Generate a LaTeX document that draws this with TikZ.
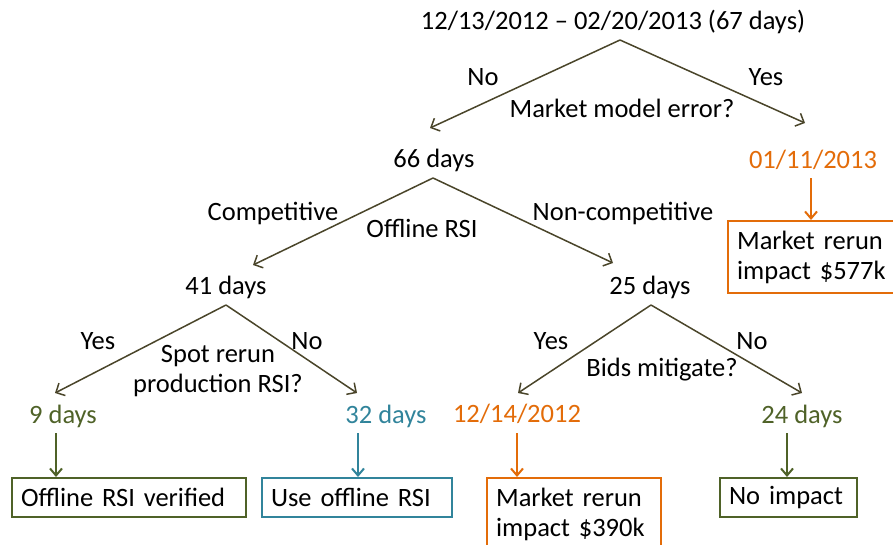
\documentclass[tikz,border=0pt]{standalone}
\usepackage{fontspec}
\setmainfont{Carlito}
\usetikzlibrary{arrows.meta}
\definecolor{arr}{HTML}{4A452A}
\definecolor{grn}{HTML}{4F6228}
\definecolor{teal}{HTML}{31849B}
\definecolor{org}{HTML}{E36C09}
\tikzset{
  lbl/.style={inner sep=0pt, anchor=center, font=\fontsize{26.5}{30}\selectfont},
  branch/.style={draw=arr, line width=1.5pt, -{Straight Barb[length=7pt,width=14pt,line width=1.5pt]}},
  down/.style={line width=2pt, -{Straight Barb[length=7pt,width=12pt,line width=2pt]}},
  box/.style={draw=#1, line width=2.2pt, anchor=north west, inner xsep=9pt, inner ysep=0pt, align=left, font=\fontsize{26.5}{30}\selectfont}
}
\begin{document}
\begin{tikzpicture}[x=1pt,y=-1pt]
\useasboundingbox (0,0) rectangle (893,544);
% level 0
\node[lbl] (top) at (613,22) {12/13/2012 -- 02/20/2013 (67 days)};
\coordinate (a0) at (620,40);
\coordinate (t0l) at (430,128);
\coordinate (t0r) at (805,123);
\draw[branch] (a0) -- (t0l);
\draw[branch] (a0) -- (t0r);
\node[lbl] (no0) at (483,77) {No};
\node[lbl] (yes0) at (766,77) {Yes};
\node[lbl] (q0) at (622,108) {Market model error?};
% right branch of top
\node[lbl, text=org] (d577) at (813,160) {01/11/2013};
\node[box=org, minimum width=168pt, minimum height=72pt, text width=150pt] (b577) at (727,220) {Market rerun\\impact \$577k};
\coordinate (s577) at (811,178);
\draw[down, draw=org] (s577) -- (b577.north -| s577);
% level 1
\node[lbl] (n66) at (434,160) {66 days};
\coordinate (a1) at (433,178);
\coordinate (t1l) at (253,265);
\coordinate (t1r) at (613,263);
\draw[branch] (a1) -- (t1l);
\draw[branch] (a1) -- (t1r);
\node[lbl] (comp) at (273,213) {Competitive};
\node[lbl] (q1) at (422,228) {Offline RSI};
\node[lbl] (ncomp) at (623,213) {Non-competitive};
% level 2 left
\node[lbl] (n41) at (226,287) {41 days};
\coordinate (a2) at (226,305);
\coordinate (t2l) at (55,393);
\coordinate (t2r) at (357,393);
\draw[branch] (a2) -- (t2l);
\draw[branch] (a2) -- (t2r);
\node[lbl] (yes2) at (98,341) {Yes};
\node[lbl] (no2) at (307,341) {No};
\node[lbl, align=center] (q2) at (218,371) {Spot rerun\\production RSI?};
% level 2 right
\node[lbl] (n25) at (650,287) {25 days};
\coordinate (a3) at (651,305);
\coordinate (t3l) at (518,393);
\coordinate (t3r) at (802,393);
\draw[branch] (a3) -- (t3l);
\draw[branch] (a3) -- (t3r);
\node[lbl] (yes3) at (551,341) {Yes};
\node[lbl] (no3) at (752,341) {No};
\node[lbl] (q3) at (662,370) {Bids mitigate?};
% leaves
\node[lbl, text=grn] (d9) at (63,416) {9 days};
\node[lbl, text=teal] (d32) at (386,416) {32 days};
\node[lbl, text=org] (d390) at (517,414) {12/14/2012};
\node[lbl, text=grn] (d24) at (802,416) {24 days};
\node[box=grn, minimum width=234pt, minimum height=39pt, text width=216pt] (b9) at (11,477) {Offline RSI verified};
\node[box=teal, minimum width=190pt, minimum height=39pt, text width=172pt] (b32) at (261,477) {Use offline RSI};
\node[box=org, minimum width=174pt, minimum height=72pt, text width=156pt] (b390) at (486,477) {Market rerun\\impact \$390k};
\node[box=grn, minimum width=137pt, minimum height=39pt, text width=119pt] (b24) at (719,477) {No impact};
\coordinate (s9) at (56,433);
\coordinate (s32) at (358,433);
\coordinate (s390) at (517,433);
\coordinate (s24) at (787,433);
\draw[down, draw=grn] (s9) -- (b9.north -| s9);
\draw[down, draw=teal] (s32) -- (b32.north -| s32);
\draw[down, draw=org] (s390) -- (b390.north -| s390);
\draw[down, draw=grn] (s24) -- (b24.north -| s24);
\end{tikzpicture}
\end{document}
